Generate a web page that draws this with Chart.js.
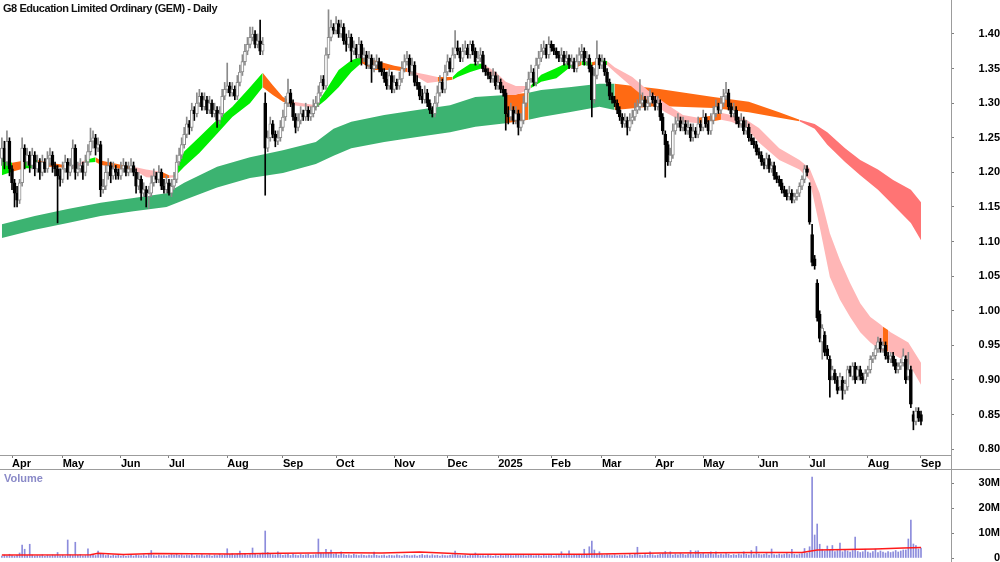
<!DOCTYPE html>
<html>
<head>
<meta charset="utf-8">
<title>G8 Education Limited Ordinary (GEM) - Daily</title>
<script src="https://cdn.jsdelivr.net/npm/chart.js@4.4.1/dist/chart.umd.min.js"></script>
<style>
	body { margin: 0; background: #fff; }
	#wrap { position: relative; width: 1000px; height: 562px; overflow: hidden; background: #fff; font-family: "Liberation Sans", Arial, sans-serif; }
	#priceBox { position: absolute; left: 0; top: 0; width: 1000px; height: 470px; }
	#volBox { position: absolute; left: 0; top: 470px; width: 1000px; height: 92px; }
	.rule { position: absolute; background: #9c9c9c; }
	#title { position: absolute; left: 3px; top: 2px; font-weight: bold; font-size: 11px; letter-spacing: -0.45px; color: #111; white-space: nowrap; }
	#volLabel { position: absolute; left: 4px; top: 472px; font-weight: bold; font-size: 11px; color: #8a8ac8; }
</style>
</head>
<body>
<div id="wrap">
	<div id="priceBox"><canvas id="priceChart"></canvas></div>
	<div id="volBox"><canvas id="volChart"></canvas></div>
	<div class="rule" style="left:0;top:455px;width:951px;height:1px"></div>
	<div class="rule" style="left:0;top:469px;width:1000px;height:1px"></div>
	<div class="rule" style="left:951px;top:0;width:1px;height:562px"></div>
	<div id="title">G8 Education Limited Ordinary (GEM) - Daily</div>
	<div id="volLabel">Volume</div>
</div>
<script>
//
// Data (one entry per trading day, 25 Mar 2024 .. 1 Sep 2025)
//

var opens = [
	1.220,1.235,1.215,1.245,1.205,1.185,1.170,1.160,1.185,1.235,
	1.215,1.225,1.210,1.225,1.205,1.215,1.200,1.215,1.205,1.220,
	1.225,1.210,1.205,1.195,1.190,1.205,1.215,1.200,1.210,1.235,
	1.200,1.205,1.210,1.200,1.215,1.230,1.245,1.250,1.235,1.240,
	1.175,1.180,1.200,1.210,1.195,1.205,1.200,1.195,1.205,1.210,
	1.200,1.205,1.210,1.200,1.180,1.190,1.170,1.175,1.165,1.170,
	1.185,1.195,1.190,1.200,1.180,1.175,1.185,1.170,1.180,1.190,
	1.215,1.225,1.240,1.255,1.270,1.265,1.290,1.285,1.300,1.310,
	1.295,1.305,1.290,1.300,1.285,1.290,1.275,1.285,1.310,1.320,
	1.325,1.315,1.320,1.310,1.330,1.345,1.360,1.375,1.385,1.395,
	1.400,1.385,1.390,1.375,1.300,1.235,1.250,1.270,1.255,1.245,
	1.250,1.265,1.280,1.300,1.315,1.300,1.280,1.265,1.275,1.285,
	1.280,1.290,1.280,1.285,1.295,1.300,1.315,1.335,1.325,1.370,
	1.395,1.410,1.405,1.415,1.400,1.410,1.390,1.385,1.395,1.375,
	1.380,1.370,1.385,1.365,1.370,1.355,1.365,1.350,1.355,1.360,
	1.350,1.345,1.335,1.325,1.340,1.320,1.330,1.325,1.335,1.350,
	1.360,1.365,1.345,1.355,1.330,1.325,1.310,1.305,1.315,1.300,
	1.290,1.285,1.300,1.315,1.330,1.320,1.345,1.360,1.350,1.370,
	1.380,1.375,1.365,1.375,1.380,1.370,1.385,1.375,1.360,1.365,
	1.370,1.350,1.345,1.340,1.335,1.340,1.325,1.330,1.320,1.315,
	1.285,1.280,1.290,1.275,1.285,1.265,1.275,1.300,1.320,1.335,
	1.345,1.330,1.355,1.365,1.375,1.380,1.370,1.385,1.380,1.375,
	1.370,1.365,1.370,1.360,1.365,1.355,1.360,1.350,1.360,1.370,
	1.375,1.360,1.365,1.352,1.305,1.340,1.365,1.355,1.360,1.345,
	1.330,1.310,1.305,1.300,1.290,1.280,1.270,1.275,1.265,1.275,
	1.280,1.290,1.295,1.300,1.305,1.295,1.300,1.310,1.305,1.295,
	1.300,1.280,1.255,1.240,1.215,1.225,1.260,1.270,1.275,1.265,
	1.270,1.260,1.265,1.250,1.260,1.255,1.270,1.265,1.280,1.270,
	1.260,1.275,1.285,1.295,1.290,1.300,1.310,1.315,1.295,1.285,
	1.290,1.275,1.270,1.275,1.260,1.265,1.250,1.245,1.240,1.230,
	1.225,1.215,1.210,1.220,1.205,1.210,1.195,1.190,1.185,1.175,
	1.170,1.165,1.170,1.160,1.165,1.170,1.180,1.190,1.205,1.180,
	1.110,1.075,1.040,0.995,0.955,0.965,0.945,0.930,0.905,0.910,
	0.900,0.890,0.900,0.885,0.890,0.915,0.905,0.920,0.905,0.915,
	0.905,0.900,0.910,0.915,0.930,0.935,0.945,0.955,0.945,0.950,
	0.935,0.930,0.935,0.925,0.915,0.920,0.925,0.930,0.905,0.915,
	0.850,0.840,0.855,0.850
];

var highs = [
	1.250,1.245,1.260,1.250,1.210,1.190,1.180,1.190,1.250,1.240,
	1.235,1.230,1.235,1.230,1.225,1.220,1.225,1.220,1.230,1.235,
	1.230,1.215,1.210,1.205,1.215,1.225,1.220,1.220,1.247,1.240,
	1.215,1.220,1.215,1.225,1.240,1.264,1.260,1.255,1.250,1.245,
	1.190,1.210,1.220,1.215,1.215,1.210,1.205,1.215,1.220,1.215,
	1.215,1.220,1.215,1.205,1.200,1.195,1.185,1.180,1.180,1.195,
	1.205,1.200,1.210,1.205,1.190,1.195,1.190,1.190,1.200,1.225,
	1.235,1.250,1.265,1.280,1.275,1.300,1.295,1.315,1.320,1.315,
	1.315,1.310,1.310,1.305,1.300,1.295,1.295,1.320,1.330,1.358,
	1.330,1.330,1.325,1.340,1.355,1.370,1.385,1.395,1.410,1.410,
	1.405,1.400,1.420,1.395,1.315,1.260,1.280,1.275,1.260,1.260,
	1.275,1.290,1.310,1.335,1.320,1.305,1.285,1.285,1.295,1.290,
	1.300,1.295,1.295,1.305,1.310,1.325,1.340,1.340,1.380,1.435,
	1.420,1.415,1.425,1.420,1.420,1.415,1.400,1.405,1.400,1.390,
	1.385,1.395,1.390,1.380,1.375,1.375,1.370,1.365,1.370,1.365,
	1.360,1.350,1.345,1.350,1.345,1.340,1.335,1.345,1.360,1.370,
	1.375,1.370,1.365,1.360,1.340,1.330,1.320,1.325,1.320,1.305,
	1.295,1.310,1.325,1.340,1.335,1.355,1.370,1.365,1.380,1.405,
	1.390,1.380,1.385,1.390,1.385,1.390,1.390,1.380,1.375,1.380,
	1.375,1.355,1.350,1.345,1.350,1.345,1.340,1.335,1.325,1.320,
	1.295,1.300,1.295,1.295,1.290,1.285,1.310,1.330,1.345,1.355,
	1.350,1.365,1.375,1.385,1.390,1.385,1.396,1.390,1.385,1.380,
	1.375,1.380,1.375,1.375,1.370,1.370,1.365,1.370,1.380,1.385,
	1.380,1.375,1.370,1.355,1.350,1.390,1.370,1.370,1.365,1.350,
	1.335,1.315,1.310,1.305,1.295,1.285,1.285,1.280,1.285,1.290,
	1.300,1.305,1.334,1.315,1.310,1.310,1.320,1.315,1.310,1.310,
	1.305,1.285,1.260,1.245,1.235,1.270,1.280,1.285,1.280,1.280,
	1.275,1.275,1.270,1.270,1.265,1.280,1.275,1.290,1.285,1.275,
	1.285,1.295,1.305,1.300,1.310,1.320,1.330,1.320,1.300,1.300,
	1.295,1.280,1.285,1.280,1.275,1.270,1.255,1.250,1.245,1.235,
	1.230,1.220,1.228,1.225,1.215,1.215,1.200,1.195,1.190,1.180,
	1.175,1.180,1.175,1.170,1.175,1.185,1.195,1.210,1.210,1.185,
	1.125,1.080,1.045,1.000,0.980,0.970,0.950,0.935,0.920,0.915,
	0.905,0.910,0.905,0.900,0.920,0.920,0.925,0.925,0.920,0.920,
	0.910,0.915,0.920,0.935,0.940,0.950,0.962,0.960,0.955,0.955,
	0.940,0.940,0.940,0.930,0.925,0.930,0.945,0.935,0.940,0.920,
	0.855,0.860,0.860,0.855
];

var lows = [
	1.210,1.205,1.210,1.195,1.175,1.150,1.150,1.155,1.180,1.205,
	1.210,1.200,1.205,1.195,1.200,1.190,1.195,1.200,1.200,1.210,
	1.200,1.195,1.127,1.180,1.185,1.200,1.190,1.195,1.205,1.190,
	1.195,1.200,1.190,1.195,1.210,1.225,1.235,1.225,1.230,1.165,
	1.170,1.175,1.190,1.185,1.190,1.190,1.190,1.190,1.200,1.195,
	1.195,1.200,1.195,1.170,1.175,1.160,1.165,1.150,1.148,1.165,
	1.180,1.185,1.185,1.175,1.170,1.170,1.167,1.165,1.175,1.185,
	1.210,1.220,1.235,1.250,1.255,1.260,1.275,1.280,1.295,1.290,
	1.290,1.285,1.285,1.280,1.280,1.265,1.270,1.280,1.305,1.315,
	1.310,1.310,1.305,1.305,1.325,1.340,1.355,1.370,1.380,1.390,
	1.380,1.380,1.370,1.370,1.167,1.230,1.245,1.250,1.237,1.240,
	1.245,1.260,1.275,1.295,1.295,1.275,1.257,1.260,1.270,1.275,
	1.275,1.275,1.275,1.280,1.290,1.295,1.310,1.320,1.320,1.365,
	1.390,1.400,1.400,1.395,1.395,1.385,1.375,1.380,1.360,1.370,
	1.365,1.365,1.355,1.360,1.350,1.350,1.330,1.345,1.350,1.345,
	1.340,1.330,1.320,1.320,1.315,1.315,1.320,1.320,1.330,1.345,
	1.355,1.340,1.340,1.325,1.320,1.305,1.300,1.300,1.295,1.285,
	1.280,1.280,1.295,1.310,1.315,1.315,1.340,1.345,1.345,1.365,
	1.370,1.360,1.360,1.370,1.365,1.365,1.370,1.355,1.355,1.360,
	1.345,1.340,1.335,1.330,1.330,1.320,1.320,1.315,1.310,1.261,
	1.270,1.275,1.270,1.270,1.254,1.260,1.270,1.295,1.315,1.330,
	1.325,1.325,1.350,1.360,1.370,1.365,1.365,1.375,1.370,1.365,
	1.360,1.360,1.355,1.355,1.350,1.350,1.345,1.345,1.355,1.365,
	1.355,1.355,1.345,1.280,1.300,1.335,1.350,1.350,1.340,1.325,
	1.305,1.300,1.295,1.285,1.275,1.265,1.265,1.254,1.260,1.270,
	1.275,1.285,1.290,1.295,1.290,1.290,1.295,1.300,1.290,1.290,
	1.275,1.255,1.193,1.210,1.210,1.220,1.255,1.265,1.260,1.260,
	1.255,1.255,1.245,1.245,1.250,1.250,1.260,1.260,1.265,1.255,
	1.255,1.270,1.280,1.285,1.285,1.295,1.305,1.290,1.280,1.280,
	1.270,1.265,1.265,1.255,1.255,1.245,1.240,1.235,1.225,1.220,
	1.210,1.205,1.205,1.200,1.200,1.190,1.185,1.180,1.170,1.165,
	1.160,1.160,1.156,1.156,1.160,1.165,1.175,1.185,1.195,1.125,
	1.065,1.060,0.985,0.955,0.930,0.935,0.930,0.875,0.900,0.895,
	0.880,0.885,0.872,0.880,0.885,0.905,0.900,0.895,0.900,0.900,
	0.895,0.895,0.905,0.910,0.925,0.930,0.940,0.940,0.940,0.930,
	0.925,0.925,0.920,0.910,0.910,0.915,0.920,0.895,0.900,0.860,
	0.828,0.835,0.840,0.835
];

var closes = [
	1.235,1.215,1.245,1.205,1.185,1.170,1.160,1.185,1.235,1.215,
	1.225,1.210,1.225,1.205,1.215,1.200,1.215,1.205,1.220,1.225,
	1.210,1.205,1.195,1.190,1.205,1.215,1.200,1.210,1.235,1.200,
	1.205,1.210,1.200,1.215,1.230,1.245,1.250,1.235,1.240,1.175,
	1.180,1.200,1.210,1.195,1.205,1.200,1.195,1.205,1.210,1.200,
	1.205,1.210,1.200,1.180,1.190,1.170,1.175,1.165,1.170,1.185,
	1.195,1.190,1.200,1.180,1.175,1.185,1.170,1.180,1.190,1.215,
	1.225,1.240,1.255,1.270,1.265,1.290,1.285,1.300,1.310,1.295,
	1.305,1.290,1.300,1.285,1.290,1.275,1.285,1.310,1.320,1.325,
	1.315,1.320,1.310,1.330,1.345,1.360,1.375,1.385,1.395,1.400,
	1.385,1.390,1.375,1.385,1.235,1.250,1.270,1.255,1.245,1.250,
	1.265,1.280,1.300,1.315,1.300,1.280,1.265,1.275,1.285,1.280,
	1.290,1.280,1.285,1.295,1.300,1.315,1.330,1.325,1.370,1.395,
	1.410,1.405,1.415,1.400,1.410,1.390,1.385,1.395,1.375,1.380,
	1.370,1.385,1.365,1.370,1.355,1.365,1.350,1.355,1.360,1.350,
	1.345,1.335,1.325,1.340,1.320,1.330,1.325,1.335,1.350,1.360,
	1.365,1.345,1.355,1.330,1.325,1.310,1.305,1.315,1.300,1.290,
	1.285,1.300,1.315,1.330,1.320,1.345,1.360,1.350,1.370,1.380,
	1.375,1.365,1.375,1.380,1.370,1.385,1.375,1.360,1.365,1.370,
	1.350,1.345,1.340,1.335,1.340,1.325,1.330,1.320,1.315,1.285,
	1.280,1.290,1.275,1.285,1.265,1.275,1.300,1.320,1.335,1.345,
	1.330,1.355,1.365,1.375,1.380,1.370,1.385,1.380,1.375,1.370,
	1.365,1.370,1.360,1.365,1.355,1.360,1.350,1.360,1.370,1.375,
	1.360,1.365,1.350,1.305,1.340,1.365,1.355,1.360,1.345,1.330,
	1.310,1.305,1.300,1.290,1.280,1.270,1.275,1.265,1.275,1.280,
	1.290,1.295,1.300,1.305,1.295,1.300,1.310,1.305,1.295,1.300,
	1.280,1.260,1.240,1.215,1.225,1.260,1.270,1.275,1.265,1.270,
	1.260,1.265,1.250,1.260,1.255,1.270,1.265,1.280,1.270,1.260,
	1.275,1.285,1.295,1.290,1.300,1.310,1.315,1.295,1.285,1.290,
	1.275,1.270,1.275,1.260,1.265,1.250,1.245,1.240,1.230,1.225,
	1.215,1.210,1.220,1.205,1.210,1.195,1.190,1.185,1.175,1.170,
	1.165,1.170,1.160,1.165,1.170,1.180,1.190,1.205,1.200,1.128,
	1.070,1.065,0.990,0.960,0.975,0.940,0.935,0.900,0.915,0.900,
	0.885,0.905,0.885,0.895,0.915,0.910,0.920,0.900,0.915,0.905,
	0.900,0.910,0.915,0.930,0.935,0.945,0.955,0.945,0.950,0.935,
	0.930,0.935,0.925,0.915,0.920,0.925,0.935,0.900,0.915,0.865,
	0.840,0.855,0.845,0.840
];

// volume, millions of shares
var volumes = [
	0.8,1.2,0.9,1.5,1.0,0.7,1.1,2.0,5.2,3.5,
	1.0,5.5,1.2,0.8,1.0,0.9,1.3,0.7,1.1,0.9,
	1.2,1.0,2.2,0.9,1.1,0.8,7.2,1.3,1.0,6.3,
	1.1,1.4,0.9,1.0,3.7,1.2,1.5,1.0,2.8,1.8,
	1.5,1.0,1.3,0.8,1.1,0.9,1.2,0.8,1.0,0.7,
	0.9,1.1,0.8,1.2,1.0,0.9,1.3,0.8,1.5,3.0,
	1.0,0.8,1.2,0.9,1.0,0.8,1.1,1.4,1.2,1.6,
	1.1,1.3,0.9,1.2,1.0,1.5,0.8,1.2,1.0,1.4,
	0.9,1.1,1.3,0.8,1.2,1.0,1.5,1.1,1.3,3.7,
	1.4,1.8,1.2,1.5,2.8,1.3,1.6,1.1,1.4,4.0,
	1.5,1.2,1.8,2.0,10.8,2.2,1.5,1.3,1.2,2.5,
	1.4,1.1,1.3,1.5,1.0,1.6,1.2,1.0,1.4,1.1,
	1.3,1.5,1.0,1.2,1.4,7.6,2.0,1.8,3.5,2.0,
	3.2,1.5,1.8,1.2,2.5,1.4,1.1,1.3,1.0,1.5,
	1.2,1.0,1.3,1.1,0.9,1.2,1.0,2.4,1.1,0.9,
	1.0,1.2,0.8,1.1,1.0,0.9,1.3,1.0,0.8,1.2,
	1.1,0.9,1.0,1.2,0.8,1.1,1.4,1.0,1.2,0.9,
	1.3,1.0,1.1,0.8,1.2,1.0,0.9,1.1,1.3,2.8,
	1.2,1.0,0.9,1.1,0.8,1.3,1.0,2.0,1.1,0.9,
	1.0,0.8,1.2,0.9,0.7,1.0,0.8,1.1,0.9,1.5,
	1.2,1.0,0.9,1.1,1.4,1.0,1.2,0.9,1.1,1.3,
	0.9,1.0,1.2,0.8,1.1,0.9,1.0,1.2,0.8,1.0,
	1.1,2.5,1.0,1.2,2.9,1.0,1.3,1.1,1.5,1.2,
	3.5,1.4,4.5,6.8,3.2,1.5,2.5,1.3,1.1,1.4,
	1.2,1.0,1.3,0.9,1.1,1.0,1.2,0.8,1.4,1.1,
	1.6,4.3,1.2,1.0,1.4,1.1,2.5,1.3,1.0,1.2,
	1.5,1.8,2.6,1.4,2.5,1.2,1.6,1.3,1.8,1.5,
	1.2,1.6,3.0,1.4,2.8,2.9,1.5,1.8,1.3,1.6,
	2.5,1.4,2.5,1.2,1.6,1.3,1.8,1.5,1.1,1.4,
	1.2,1.6,1.3,2.5,1.5,1.2,3.0,1.4,4.6,1.6,
	1.3,1.5,1.8,1.2,3.6,1.4,1.2,1.6,1.3,1.5,
	1.8,1.4,3.5,1.5,1.3,1.6,1.8,3.8,2.0,4.5,
	32.4,9.2,13.6,5.5,3.5,2.8,4.8,3.2,5.0,2.6,
	3.0,6.0,2.5,3.2,2.8,2.4,3.0,8.4,2.6,2.2,
	2.5,3.5,2.4,2.0,2.6,3.6,2.2,2.8,2.4,2.0,
	2.6,2.2,2.5,3.0,2.4,2.8,3.2,3.2,7.6,15.2,
	5.6,5.0,3.6,4.0
];

// volume moving average, read at a few days
var volAvgDay = [0, 35, 38, 48, 60, 90, 110, 135, 150, 165, 185, 230, 260, 300, 316, 322, 345, 356, 363];
var volAvg = [1.2, 1.3, 1.9, 1.4, 1.8, 1.6, 1.9, 2.1, 2.0, 2.4, 1.5, 1.5, 2.0, 2.2, 2.2, 3.2, 3.6, 4.0, 4.2];

// short-term ribbon (upper / lower edge) and its state
var shortDay = [0,4,9,14,19,28,33,37,39,47,52,57,63,66,68,72,78,85,91,98,103,107,111,115,124,128,133,138,142,147,155,160,164,168,172,178,180,185,190,195,199,203,207,209,213,219,224,227,229,233,236,239,242,249,255,262,269,275,280,284,288,294,299,307,315,319,323,327,331,335,339,343,347,348,350,351,358,363];
var shortUpper = [1.221,1.214,1.217,1.218,1.214,1.209,1.218,1.222,1.217,1.211,1.208,1.204,1.201,1.196,1.196,1.230,1.251,1.276,1.295,1.323,1.344,1.326,1.309,1.302,1.297,1.319,1.348,1.362,1.367,1.362,1.354,1.351,1.344,1.341,1.338,1.338,1.345,1.357,1.357,1.345,1.331,1.325,1.325,1.326,1.341,1.351,1.360,1.358,1.361,1.359,1.362,1.361,1.352,1.338,1.319,1.300,1.283,1.279,1.282,1.286,1.283,1.276,1.264,1.235,1.218,1.206,1.170,1.112,1.073,1.040,1.011,0.991,0.980,0.977,0.972,0.969,0.954,0.925];
var shortLower = [1.196,1.201,1.206,1.206,1.208,1.206,1.214,1.215,1.211,1.205,1.204,1.193,1.192,1.192,1.193,1.208,1.228,1.256,1.280,1.300,1.323,1.312,1.302,1.297,1.293,1.305,1.323,1.345,1.358,1.348,1.348,1.345,1.338,1.329,1.331,1.334,1.338,1.345,1.351,1.331,1.312,1.312,1.318,1.322,1.331,1.336,1.351,1.352,1.355,1.354,1.357,1.355,1.345,1.323,1.305,1.287,1.273,1.271,1.273,1.276,1.273,1.264,1.243,1.218,1.204,1.189,1.121,1.049,1.016,0.991,0.969,0.954,0.943,0.942,0.941,0.939,0.925,0.893];
var shortState = ['up','dn','up','dn','dn','wk','up','dn','dn','dn','wk','wk','dn','wk','up','up','up','up','up','up','dn','dn','dn','wk','up','up','up','up','dn','dn','dn','wk','wk','wk','dn','up','up','up','wk','wk','wk','wk','wk','up','up','up','up','dn','up','dn','up','wk','wk','wk','wk','wk','wk','dn','dn','wk','wk','wk','wk','wk','wk','wk','wk','wk','wk','wk','wk','wk','wk','dn','wk','wk','wk','wk'];

// long-term ribbon
var longDay = [0,13,26,39,52,65,72,85,98,111,124,131,138,151,164,177,187,199,208,213,224,236,242,259,281,295,307,315,321,326,333,339,346,352,359,363];
var longUpper = [1.125,1.137,1.147,1.156,1.163,1.170,1.185,1.208,1.222,1.232,1.244,1.263,1.273,1.283,1.290,1.297,1.309,1.312,1.315,1.319,1.323,1.328,1.328,1.321,1.309,1.302,1.287,1.276,1.270,1.258,1.235,1.218,1.204,1.189,1.175,1.157];
var longLower = [1.105,1.117,1.127,1.137,1.144,1.150,1.160,1.178,1.192,1.199,1.212,1.224,1.235,1.244,1.251,1.258,1.266,1.271,1.276,1.280,1.287,1.295,1.290,1.296,1.293,1.287,1.279,1.274,1.263,1.240,1.215,1.196,1.175,1.153,1.127,1.102];
var longState = ['up','up','up','up','up','up','up','up','up','up','up','up','up','up','up','up','up','dn','up','up','up','up','dn','dn','dn','dn','dn','wk','wk','wk','wk','wk','wk','wk','wk','wk'];

// axis ticks
var monthDay = [4, 24, 47, 66, 89, 111, 132, 155, 176, 196, 217, 237, 258, 277, 299, 319, 342, 363];
var monthLabels = ['Apr', 'May', 'Jun', 'Jul', 'Aug', 'Sep', 'Oct', 'Nov', 'Dec', '2025', 'Feb', 'Mar', 'Apr', 'May', 'Jun', 'Jul', 'Aug', 'Sep'];
var priceTicks = [0.80, 0.85, 0.90, 0.95, 1.00, 1.05, 1.10, 1.15, 1.20, 1.25, 1.30, 1.35, 1.40];
var volumeTicks = [0, 10, 20, 30];


//
// Settings
//

var DAY_MIN = -0.74;
var DAY_MAX = 374.85;
var PRICE_MIN = 0.7916;
var PRICE_MAX = 1.4491;
var VOLUME_MAX = 35.2;

var shortColours = { up: '#00ee00', dn: '#ff6a13', wk: '#ffb6b6' };
var longColours = { up: '#3cb371', dn: '#ff6a13', wk: '#ff7474' };

Chart.defaults.font.family = '"Liberation Sans", Arial, sans-serif';
Chart.defaults.font.size = 11;
Chart.defaults.font.weight = 'bold';
Chart.defaults.color = '#000';


//
// Methods
//

function points(days, values) {
	return days.map(function(d, k) { return { x: d, y: values[k] }; });
}

function dayAxis(show) {
	return {
		type: 'linear',
		display: show,
		min: DAY_MIN,
		max: DAY_MAX,
		offset: false,
		grid: { offset: false, drawOnChartArea: false, tickLength: 3, color: '#808080' },
		border: { display: false },
		afterBuildTicks: function(axis) {
			axis.ticks = monthDay.map(function(d) { return { value: d }; });
		},
		ticks: {
			autoSkip: false,
			maxRotation: 0,
			align: 'start',
			padding: -1,
			callback: function(v, i) { return monthLabels[i]; }
		},
		afterFit: function(axis) {
			axis.height = show ? 15 : 0;
			axis.paddingLeft = 0;
			axis.paddingRight = 0;
		}
	};
}

function ribbon(days, upper, lower, state, colours) {
	return [{
		type: 'line',
		data: points(days, upper),
		borderWidth: 0,
		pointRadius: 0,
		tension: 0,
		fill: '+1',
		backgroundColor: colours.up,
		segment: {
			backgroundColor: function(ctx) { return colours[state[ctx.p0DataIndex]]; }
		}
	}, {
		type: 'line',
		data: points(days, lower),
		borderWidth: 0,
		pointRadius: 0,
		tension: 0,
		fill: false
	}];
}

// Init price chart
function initPriceChart(canvas) {

	var isUp = closes.map(function(c, i) { return c >= opens[i]; });

	var bodies = {
		type: 'bar',
		data: opens.map(function(o, i) { return { x: i, y: [o, closes[i]] }; }),
		backgroundColor: isUp.map(function(u) { return u ? '#ffffff' : '#000000'; }),
		borderColor: isUp.map(function(u) { return u ? '#8a8a8a' : '#000000'; }),
		borderWidth: 1,
		borderSkipped: false,
		barThickness: 3,
		grouped: false
	};

	var wicks = {
		type: 'bar',
		data: lows.map(function(l, i) { return { x: i, y: [l, highs[i]] }; }),
		backgroundColor: isUp.map(function(u) { return u ? '#8a8a8a' : '#000000'; }),
		borderWidth: 0,
		barThickness: 1,
		grouped: false
	};

	var datasets = [bodies, wicks]
		.concat(ribbon(shortDay, shortUpper, shortLower, shortState, shortColours))
		.concat(ribbon(longDay, longUpper, longLower, longState, longColours));

	return new Chart(canvas, {
		type: 'bar',
		data: { datasets: datasets },
		options: {
			animation: false,
			responsive: true,
			maintainAspectRatio: false,
			events: [],
			layout: { padding: 0, autoPadding: false },
			plugins: { legend: { display: false }, tooltip: { enabled: false } },
			scales: {
				x: dayAxis(true),
				y: {
					position: 'right',
					min: PRICE_MIN,
					max: PRICE_MAX,
					grid: { drawOnChartArea: false, tickLength: 3, color: '#808080' },
					border: { display: false },
					afterBuildTicks: function(axis) {
						axis.ticks = priceTicks.map(function(v) { return { value: v }; });
					},
					ticks: {
						crossAlign: 'far',
						padding: 23,
						callback: function(v) { return v.toFixed(2); }
					},
					afterFit: function(axis) {
						axis.width = 49;
						axis.paddingTop = 0;
						axis.paddingBottom = 0;
					}
				}
			}
		}
	});
}

// Init volume chart
function initVolumeChart(canvas) {
	return new Chart(canvas, {
		type: 'bar',
		data: {
			datasets: [{
				type: 'line',
				data: points(volAvgDay, volAvg),
				borderColor: '#ff1a1a',
				borderWidth: 1.5,
				pointRadius: 0,
				tension: 0,
				fill: false
			}, {
				type: 'bar',
				data: volumes.map(function(v, i) { return { x: i, y: v }; }),
				backgroundColor: '#8c8cdc',
				barThickness: 1,
				grouped: false
			}]
		},
		options: {
			animation: false,
			responsive: true,
			maintainAspectRatio: false,
			events: [],
			layout: { padding: { bottom: 4 }, autoPadding: false },
			plugins: { legend: { display: false }, tooltip: { enabled: false } },
			scales: {
				x: dayAxis(false),
				y: {
					position: 'right',
					min: 0,
					max: VOLUME_MAX,
					grid: { drawOnChartArea: false, tickLength: 3, color: '#808080' },
					border: { display: false },
					afterBuildTicks: function(axis) {
						axis.ticks = volumeTicks.map(function(v) { return { value: v }; });
					},
					ticks: {
						crossAlign: 'far',
						padding: 23,
						callback: function(v) { return v === 0 ? '0' : v + 'M'; }
					},
					afterFit: function(axis) {
						axis.width = 49;
						axis.paddingTop = 0;
						axis.paddingBottom = 0;
					}
				}
			}
		}
	});
}

initPriceChart(document.getElementById('priceChart'));
initVolumeChart(document.getElementById('volChart'));
</script>
</body>
</html>
